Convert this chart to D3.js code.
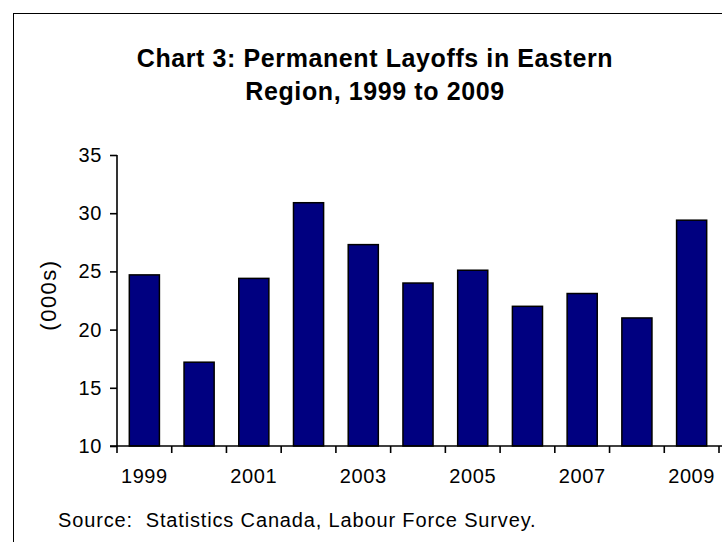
<!DOCTYPE html>
<head>
<meta charset="utf-8">
<style>
  html,body {
    margin: 0;
    padding: 0;
    background: white;
    font-family: "Liberation Sans", Arial, sans-serif;
  }
</style>
<script src="https://d3js.org/d3.v7.min.js"></script>
</head>

<body>
<div id="chart"></div>

<script>
// data
var years = ["1999","2000","2001","2002","2003","2004","2005","2006","2007","2008","2009"];
var layoffs = [24.7, 17.2, 24.4, 30.9, 27.3, 24.0, 25.1, 22.0, 23.1, 21.0, 29.4];
var yTicks = [10, 15, 20, 25, 30, 35];
var xLabels = ["1999","2001","2003","2005","2007","2009"];
var titleLines = ["Chart 3: Permanent Layoffs in Eastern", "Region, 1999 to 2009"];

var W = 722, H = 542;
var plot = {left: 117, right: 719, top: 155, bottom: 446};

var svg = d3.select("#chart")
  .append("svg")
    .attr("width", W)
    .attr("height", H);

// outer frame (runs off the right and bottom edge)
svg.append("rect")
  .attr("x", 13.5)
  .attr("y", 13.5)
  .attr("width", W + 20)
  .attr("height", H + 20)
  .style("fill", "none")
  .style("stroke", "#000")
  .style("stroke-width", 1);

// title
svg.append("g")
  .selectAll("text")
  .data(titleLines)
  .enter()
  .append("text")
    .attr("x", 375)
    .attr("y", function (d, i) { return 67 + i * 33; })
    .attr("text-anchor", "middle")
    .style("font-size", "25px")
    .style("font-weight", "bold")
    .style("letter-spacing", "0.6px")
    .text(function (d) { return d; });

var x = d3.scaleBand()
  .domain(years)
  .range([plot.left, plot.right])
  .paddingInner(0.45)
  .paddingOuter(0.225);

var y = d3.scaleLinear()
  .domain([10, 35])
  .range([plot.bottom, plot.top]);

// bars
svg.append("g")
  .selectAll("rect")
  .data(layoffs)
  .enter()
  .append("rect")
    .attr("x", function (d, i) { return x(years[i]); })
    .attr("y", function (d) { return y(d); })
    .attr("width", x.bandwidth())
    .attr("height", function (d) { return y(10) - y(d); })
    .style("fill", "#000080")
    .style("stroke", "#000")
    .style("stroke-width", 1.5);

// y axis
var yAxis = svg.append("g")
  .attr("transform", "translate(" + plot.left + ",0)")
  .call(d3.axisLeft(y).tickValues(yTicks).tickSize(7).tickPadding(8));

// x axis: ticks at the category boundaries, labels on every other year
var step = x.step();
var bounds = d3.range(years.length + 1).map(function (i) { return plot.left + i * step; });
var xAxis = svg.append("g");
xAxis.append("line")
  .attr("x1", plot.left - 7)
  .attr("x2", W)
  .attr("y1", y(10))
  .attr("y2", y(10));
xAxis.selectAll(".xt")
  .data(bounds)
  .enter()
  .append("line")
    .attr("class", "xt")
    .attr("x1", function (d) { return d; })
    .attr("x2", function (d) { return d; })
    .attr("y1", y(10))
    .attr("y2", y(10) + 7);
xAxis.selectAll("text")
  .data(xLabels)
  .enter()
  .append("text")
    .attr("x", function (d) { return x(d) + x.bandwidth() / 2; })
    .attr("y", 483)
    .attr("text-anchor", "middle")
    .text(function (d) { return d; });

[yAxis, xAxis].forEach(function (g) {
  g.selectAll("line, path").style("stroke", "#000").style("stroke-width", 1.6);
  g.selectAll("text")
    .style("font-family", "'Liberation Sans', Arial, sans-serif")
    .style("font-size", "20px")
    .style("letter-spacing", "0.6px")
    .style("fill", "#000");
});
yAxis.select(".domain").attr("d", "M0," + plot.top + "V" + plot.bottom);

// y axis title
svg.append("text")
  .attr("transform", "translate(48,295) rotate(-90)")
  .attr("text-anchor", "middle")
  .attr("dy", "0.35em")
  .style("font-size", "22px")
  .style("letter-spacing", "1.5px")
  .text("(000s)");

// source note
svg.append("text")
  .attr("x", 58)
  .attr("y", 527)
  .attr("xml:space", "preserve")
  .style("white-space", "pre")
  .style("font-size", "20px")
  .style("letter-spacing", "0.85px")
  .text("Source:  Statistics Canada, Labour Force Survey.");
</script>
</body>
</html>
